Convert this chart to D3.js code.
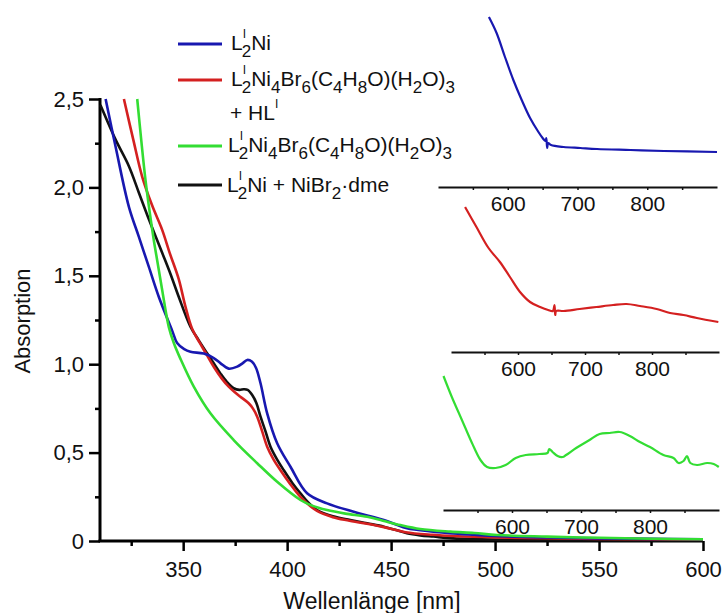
<!DOCTYPE html>
<html><head><meta charset="utf-8">
<script src="https://cdn.jsdelivr.net/npm/d3@7"></script>
<style>body{margin:0;background:#fff}svg{display:block}</style>
</head><body>
<svg id="c" width="726" height="613"></svg>
<script>
// ---------------- DATA ----------------
const xTicks = [350, 400, 450, 500, 550, 600];
const xMinorTicks = [325, 375, 425, 475, 525, 575];
const yTicks = [0, 0.5, 1.0, 1.5, 2.0, 2.5];
const yMinorTicks = [0.25, 0.75, 1.25, 1.75, 2.25];
const insetTicks = [600, 700, 800];
const insetMinorTicks = [550, 650, 750, 850];

const seriesNames = [
  "L^{I}_{2}Ni",
  "L^{I}_{2}Ni_{4}Br_{6}(C_{4}H_{8}O)(H_{2}O)_{3}|+ HL^{I}",
  "L^{I}_{2}Ni_{4}Br_{6}(C_{4}H_{8}O)(H_{2}O)_{3}",
  "L^{I}_{2}Ni + NiBr_{2}·dme"
];
const seriesColors = ["#1818b0", "#d42020", "#33dd33", "#111111"];

const blueNm  = [312.7,317.5,323.9,328.7,333.5,338.3,344.7,347.1,350.5,353.5,359.9,364.7,368,371.9,376,378.5,380.8,383,385,387.2,390.4,395.2,401.6,409.6,419.2,432,440,446.5,452,457.6,470.4,478.4,490,500,525,550,575,600];
const blueAbs = [2.50,2.23,1.89,1.72,1.55,1.38,1.19,1.12,1.085,1.07,1.06,1.035,1.005,0.975,0.986,1.005,1.024,1.015,0.98,0.892,0.722,0.553,0.42,0.27,0.213,0.166,0.14,0.119,0.095,0.072,0.053,0.044,0.035,0.028,0.02,0.015,0.012,0.01];

const redNm  = [321.5,326,330.3,335,339.9,343.5,347.9,351,354.3,358,361.5,365,368.5,371.9,375,377.5,381.5,383.5,385.6,388,390.4,393.5,396.8,401,406.4,414.4,422,430,446,457,470,480,500,550,600];
const redAbs = [2.50,2.27,2.06,1.90,1.76,1.63,1.48,1.33,1.20,1.12,1.05,0.98,0.92,0.873,0.84,0.816,0.779,0.75,0.703,0.62,0.533,0.46,0.40,0.33,0.25,0.17,0.135,0.115,0.08,0.05,0.035,0.028,0.02,0.012,0.008];

const greenNm  = [327.9,329.9,331.9,333.9,335.9,337.9,339.9,343.1,345.5,348.7,355.1,363.1,374.3,385.6,395.2,406.4,412,419.2,428,438.5,446,454.5,464,478.5,490,501,525,550,575,600];
const greenAbs = [2.50,2.26,2.04,1.86,1.70,1.56,1.42,1.21,1.12,1.03,0.873,0.722,0.571,0.44,0.335,0.232,0.20,0.175,0.155,0.137,0.115,0.09,0.068,0.053,0.045,0.034,0.025,0.018,0.013,0.01];

const blackNm  = [310.2,317.5,323.9,328.7,333.5,339.9,343.9,347.9,353.5,357.5,361.5,364.7,367.9,371,374.3,377,379.1,381,383.2,385.2,387.2,389.6,392,395.2,398.4,402.4,406.4,410.4,414.4,422,430.4,438.5,446.5,452,457.6,464,470.4,480,500,550,600];
const blackAbs = [2.466,2.27,2.12,1.97,1.82,1.63,1.51,1.38,1.212,1.135,1.062,1.005,0.948,0.90,0.864,0.855,0.858,0.855,0.826,0.78,0.703,0.62,0.533,0.46,0.40,0.33,0.27,0.215,0.175,0.14,0.119,0.10,0.081,0.063,0.044,0.032,0.025,0.015,0.008,0.004,0.003];

// insets (relative absorption, 500-900 nm)
const insetBlueNm  = [573,584,596,608,620,632,644,650,654,655.3,656.5,658,662,680,704,728,776,824,900];
const insetBlueAbs = [0.170,0.154,0.130,0.107,0.087,0.069,0.055,0.049,0.046,0.049,0.039,0.044,0.042,0.040,0.039,0.038,0.037,0.036,0.035];

const insetRedNm  = [521,538,556,573,588,603,618,633,645,652,654.5,655.5,657,668,692,717,742,762,782,807,827,847,867,899];
const insetRedAbs = [0.145,0.125,0.104,0.090,0.075,0.060,0.050,0.045,0.042,0.041,0.047,0.037,0.041,0.041,0.043,0.045,0.047,0.048,0.046,0.043,0.039,0.037,0.034,0.030];

const insetGreenNm  = [500.7,512.8,527.4,542,554.3,563.9,576.2,590.8,605.4,620,639.4,651.5,654,658.8,666.1,673.4,678.4,693,712.4,727,741.6,756.2,770.8,785.4,800,819.4,834,841.3,848.6,853.6,858.4,868.2,882.8,892.4,899.7];
const insetGreenAbs = [0.134,0.113,0.090,0.067,0.050,0.043,0.042,0.045,0.052,0.055,0.056,0.057,0.061,0.058,0.054,0.053,0.055,0.062,0.070,0.076,0.077,0.078,0.074,0.068,0.063,0.055,0.052,0.047,0.049,0.054,0.047,0.045,0.047,0.046,0.043];

// ---------------- LAYOUT ----------------
const FONT = "'Liberation Sans', Arial, Helvetica, sans-serif";
const svg = d3.select("#c").style("font-family", FONT);
svg.append("rect").attr("width", 726).attr("height", 613).attr("fill", "#fff");

const x = d3.scaleLinear().domain([310, 600]).range([100, 703]);
const y = d3.scaleLinear().domain([0, 2.5]).range([541, 99]);

const zip = (a, b) => a.map((v, i) => [v, b[i]]);
const mainSeries = [
  {nm: blackNm, abs: blackAbs, color: seriesColors[3]},
  {nm: redNm, abs: redAbs, color: seriesColors[1]},
  {nm: blueNm, abs: blueAbs, color: seriesColors[0]},
  {nm: greenNm, abs: greenAbs, color: seriesColors[2]}
];

// axes
const fmt = d => d === 0 ? "0" : d3.format(".1f")(d).replace(".", ",");
const gy = svg.append("g").attr("transform", "translate(100,0)")
  .call(d3.axisLeft(y).tickValues(yTicks).tickSize(11).tickSizeOuter(0).tickFormat(fmt));
const gyMinor = svg.append("g").attr("transform", "translate(100,0)")
  .call(d3.axisLeft(y).tickValues(yMinorTicks).tickSize(5).tickSizeOuter(0).tickFormat(""));
const gx = svg.append("g").attr("transform", "translate(0,541)")
  .call(d3.axisBottom(x).tickValues(xTicks).tickSize(10).tickSizeOuter(0).tickFormat(d3.format("d")));
const gxMinor = svg.append("g").attr("transform", "translate(0,541)")
  .call(d3.axisBottom(x).tickValues(xMinorTicks).tickSize(5).tickSizeOuter(0).tickFormat(""));
[gy, gyMinor, gx, gxMinor].forEach(g => {
  g.select(".domain").attr("stroke", "#000").attr("stroke-width", 3);
  g.selectAll(".tick line").attr("stroke", "#000").attr("stroke-width", 2.5);
  g.selectAll(".tick text").attr("fill", "#111").style("font-size", "22px").style("font-family", FONT);
});
gyMinor.select(".domain").remove();
gxMinor.select(".domain").remove();
gy.select(".domain").attr("d", "M0,98V542");
gx.select(".domain").attr("d", "M98.5,0H703");
gy.selectAll(".tick text").attr("x", -16);
gx.selectAll(".tick text").attr("y", 36).attr("dy", 0);

svg.append("text").attr("x", 372).attr("y", 609).attr("text-anchor", "middle")
  .style("font-size", "23px").attr("fill", "#111").text("Wellenlänge [nm]");
svg.append("text").attr("transform", "translate(30,321) rotate(-90)").attr("text-anchor", "middle")
  .style("font-size", "22px").attr("fill", "#111").text("Absorption");

// main curves
const line = d3.line().x(d => x(d[0])).y(d => y(d[1])).curve(d3.curveCatmullRom.alpha(0.5));
mainSeries.forEach(s => {
  svg.append("path").datum(zip(s.nm, s.abs)).attr("d", line)
    .attr("fill", "none").attr("stroke", s.color).attr("stroke-width", 2.6)
    .attr("stroke-linejoin", "round");
});

// insets
const insets = [
  {nm: insetBlueNm, abs: insetBlueAbs, color: seriesColors[0], axisY: 187, x0: 438, x1: 717},
  {nm: insetRedNm, abs: insetRedAbs, color: seriesColors[1], axisY: 352, x0: 451, x1: 719},
  {nm: insetGreenNm, abs: insetGreenAbs, color: seriesColors[2], axisY: 510, x0: 443, x1: 719}
];
insets.forEach(ins => {
  const xi = d3.scaleLinear().domain([500, 900]).range([ins.x0, ins.x1]);
  const yi = d3.scaleLinear().domain([0, 0.2]).range([ins.axisY, ins.axisY - 200]);
  const ga = svg.append("g").attr("transform", `translate(0,${ins.axisY})`)
    .call(d3.axisBottom(xi).tickValues(insetTicks).tickSize(3).tickSizeOuter(0).tickFormat(d3.format("d")));
  ga.select(".domain").attr("stroke", "#111").attr("stroke-width", 2);
  ga.selectAll(".tick line").attr("stroke", "#111").attr("stroke-width", 1.5);
  ga.selectAll(".tick text").attr("y", 23.5).attr("dy", 0).attr("fill", "#111")
    .style("font-size", "21px").style("font-family", FONT);
  const gm = svg.append("g").attr("transform", `translate(0,${ins.axisY})`)
    .call(d3.axisBottom(xi).tickValues(insetMinorTicks).tickSize(3).tickSizeOuter(0).tickFormat(""));
  gm.select(".domain").remove();
  gm.selectAll(".tick line").attr("stroke", "#111").attr("stroke-width", 1.5);
  const li = d3.line().x(d => xi(d[0])).y(d => yi(d[1])).curve(d3.curveCatmullRom.alpha(0.5));
  svg.append("path").datum(zip(ins.nm, ins.abs)).attr("d", li)
    .attr("fill", "none").attr("stroke", ins.color).attr("stroke-width", 2.2)
    .attr("stroke-linejoin", "round");
});

// legend
function richText(g, str, tx, ty) {
  const t = g.append("text").attr("x", tx).attr("y", ty).attr("fill", "#111").style("font-size", "21px");
  const re = /(\^\{[^}]*\}|_\{[^}]*\}|[^\^_]+)/g;
  let shift = 0, lastSup = null;
  const parts = str.match(re);
  parts.forEach(p => {
    let type = "n", txt = p;
    if (p.startsWith("^{")) { type = "sup"; txt = p.slice(2, -1); }
    else if (p.startsWith("_{")) { type = "sub"; txt = p.slice(2, -1); }
    const target = type === "sup" ? -12 : type === "sub" ? 7 : 0;
    const ts = t.append("tspan").attr("dy", target - shift).text(txt)
      .style("font-size", type === "sup" ? "12px" : type === "sub" ? "17px" : "21px");
    if (type === "sub" && lastSup) ts.attr("dx", -lastSup.node().getComputedTextLength() - 1);
    lastSup = type === "sup" ? ts : null;
    shift = target;
  });
  return t;
}
const legendRows = [
  {label: 0, lineY: 44, base: 49.5, tx: 231},
  {label: 1, lineY: 80, base: 86, tx: 231, second: 120},
  {label: 2, lineY: 146, base: 152, tx: 228},
  {label: 3, lineY: 185, base: 191.5, tx: 227}
];
const lg = svg.append("g");
legendRows.forEach(r => {
  lg.append("line").attr("x1", 178).attr("x2", 222).attr("y1", r.lineY).attr("y2", r.lineY)
    .attr("stroke", seriesColors[r.label]).attr("stroke-width", 3);
  const parts = seriesNames[r.label].split("|");
  richText(lg, parts[0], r.tx, r.base);
  if (parts[1]) richText(lg, parts[1], 230, r.second);
});
</script>
</body></html>
